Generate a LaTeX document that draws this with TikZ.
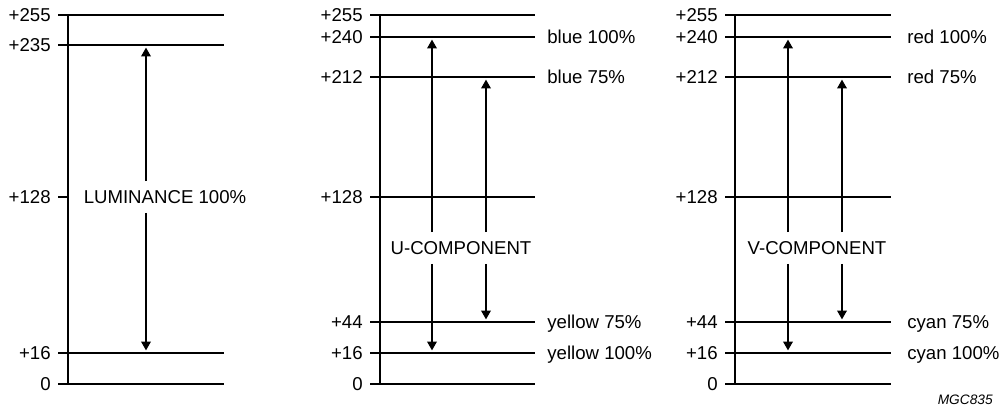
\documentclass[tikz,border=0pt]{standalone}
\usepackage{fontspec}
\setmainfont{Liberation Sans}
\usepackage{tikz}
\usetikzlibrary{arrows.meta}

\begin{document}
\begin{tikzpicture}[x=0.02cm, y=-0.02cm, >={Triangle[width=5.5pt,length=5pt]}, font=\fontsize{10.6}{12.7}\selectfont]
			\tikzstyle{level}=[line width=0.8pt]
			\tikzstyle{val}=[anchor=east, inner ysep=0pt, inner xsep=0.14cm, text height=7.6pt, text depth=0pt]
			\tikzstyle{col}=[anchor=west, inner sep=0pt, text height=7.6pt, text depth=0pt]
			\tikzstyle{comp}=[inner sep=0pt, minimum height=0.62cm]
			\tikzstyle{arr}=[->, line width=0.8pt, shorten >=1.5pt]
			\useasboundingbox (0,0) rectangle (1005,412);
			
			% Luminance scale
			\coordinate (p1top) at (68,15);
			\coordinate (p1bot) at (68,384);
			\coordinate (p1end) at (224,0);
			\node[val] (p1v255) at (58,15) {+255};
			\node[val] (p1v235) at (58,45) {+235};
			\node[val] (p1v128) at (58,197) {+128};
			\node[val] (p1v16) at (58,353) {+16};
			\node[val] (p1v0) at (58,384) {0};
			\draw[level] (p1top) -- (p1bot);
			\draw[level] (p1v255) -- (p1v255 -| p1end);
			\draw[level] (p1v235) -- (p1v235 -| p1end);
			\draw[level] (p1v128) -- (p1v128 -| p1top);
			\draw[level] (p1v16) -- (p1v16 -| p1end);
			\draw[level] (p1v0) -- (p1v0 -| p1end);
			\node[comp] (lum) at (165,197) {LUMINANCE 100\%};
			\coordinate (p1hi) at (146,45);
			\coordinate (p1lo) at (146,353);
			\draw[arr] (lum.north -| p1hi) -- (p1hi);
			\draw[arr] (lum.south -| p1lo) -- (p1lo);
			
			% U-component scale
			\coordinate (p2top) at (380,15);
			\coordinate (p2bot) at (380,384);
			\coordinate (p2end) at (535,0);
			\node[val] (p2v255) at (370,15) {+255};
			\node[val] (p2v240) at (370,37) {+240};
			\node[val] (p2v212) at (370,77) {+212};
			\node[val] (p2v128) at (370,197) {+128};
			\node[val] (p2v44) at (370,322) {+44};
			\node[val] (p2v16) at (370,353) {+16};
			\node[val] (p2v0) at (370,384) {0};
			\draw[level] (p2top) -- (p2bot);
			\draw[level] (p2v255) -- (p2v255 -| p2end);
			\draw[level] (p2v240) -- (p2v240 -| p2end);
			\draw[level] (p2v212) -- (p2v212 -| p2end);
			\draw[level] (p2v128) -- (p2v128 -| p2end);
			\draw[level] (p2v44) -- (p2v44 -| p2end);
			\draw[level] (p2v16) -- (p2v16 -| p2end);
			\draw[level] (p2v0) -- (p2v0 -| p2end);
			\node[col] (blue100) at (547,37) {blue 100\%};
			\node[col] (blue75) at (547,77) {blue 75\%};
			\node[col] (yellow75) at (547,322) {yellow 75\%};
			\node[col] (yellow100) at (547,353) {yellow 100\%};
			\node[comp] (ucomp) at (461,248) {U-COMPONENT};
			\coordinate (p2hia) at (432,37);
			\coordinate (p2hib) at (486,77);
			\coordinate (p2loa) at (432,353);
			\coordinate (p2lob) at (486,322);
			\draw[arr] (ucomp.north -| p2hia) -- (p2hia);
			\draw[arr] (ucomp.north -| p2hib) -- (p2hib);
			\draw[arr] (ucomp.south -| p2loa) -- (p2loa);
			\draw[arr] (ucomp.south -| p2lob) -- (p2lob);
			
			% V-component scale
			\coordinate (p3top) at (735,15);
			\coordinate (p3bot) at (735,384);
			\coordinate (p3end) at (891,0);
			\node[val] (p3v255) at (725,15) {+255};
			\node[val] (p3v240) at (725,37) {+240};
			\node[val] (p3v212) at (725,77) {+212};
			\node[val] (p3v128) at (725,197) {+128};
			\node[val] (p3v44) at (725,322) {+44};
			\node[val] (p3v16) at (725,353) {+16};
			\node[val] (p3v0) at (725,384) {0};
			\draw[level] (p3top) -- (p3bot);
			\draw[level] (p3v255) -- (p3v255 -| p3end);
			\draw[level] (p3v240) -- (p3v240 -| p3end);
			\draw[level] (p3v212) -- (p3v212 -| p3end);
			\draw[level] (p3v128) -- (p3v128 -| p3end);
			\draw[level] (p3v44) -- (p3v44 -| p3end);
			\draw[level] (p3v16) -- (p3v16 -| p3end);
			\draw[level] (p3v0) -- (p3v0 -| p3end);
			\node[col] (red100) at (907,37) {red 100\%};
			\node[col] (red75) at (907,77) {red 75\%};
			\node[col] (cyan75) at (907,322) {cyan 75\%};
			\node[col] (cyan100) at (907,353) {cyan 100\%};
			\node[comp] (vcomp) at (817,248) {V-COMPONENT};
			\coordinate (p3hia) at (788,37);
			\coordinate (p3hib) at (842,77);
			\coordinate (p3loa) at (788,353);
			\coordinate (p3lob) at (842,322);
			\draw[arr] (vcomp.north -| p3hia) -- (p3hia);
			\draw[arr] (vcomp.north -| p3hib) -- (p3hib);
			\draw[arr] (vcomp.south -| p3loa) -- (p3loa);
			\draw[arr] (vcomp.south -| p3lob) -- (p3lob);
			
			\node[anchor=east, inner sep=0pt, font=\fontsize{7.8}{9}\selectfont\itshape] (code) at (993,400) {MGC835};
			
		\end{tikzpicture}
\end{document}
